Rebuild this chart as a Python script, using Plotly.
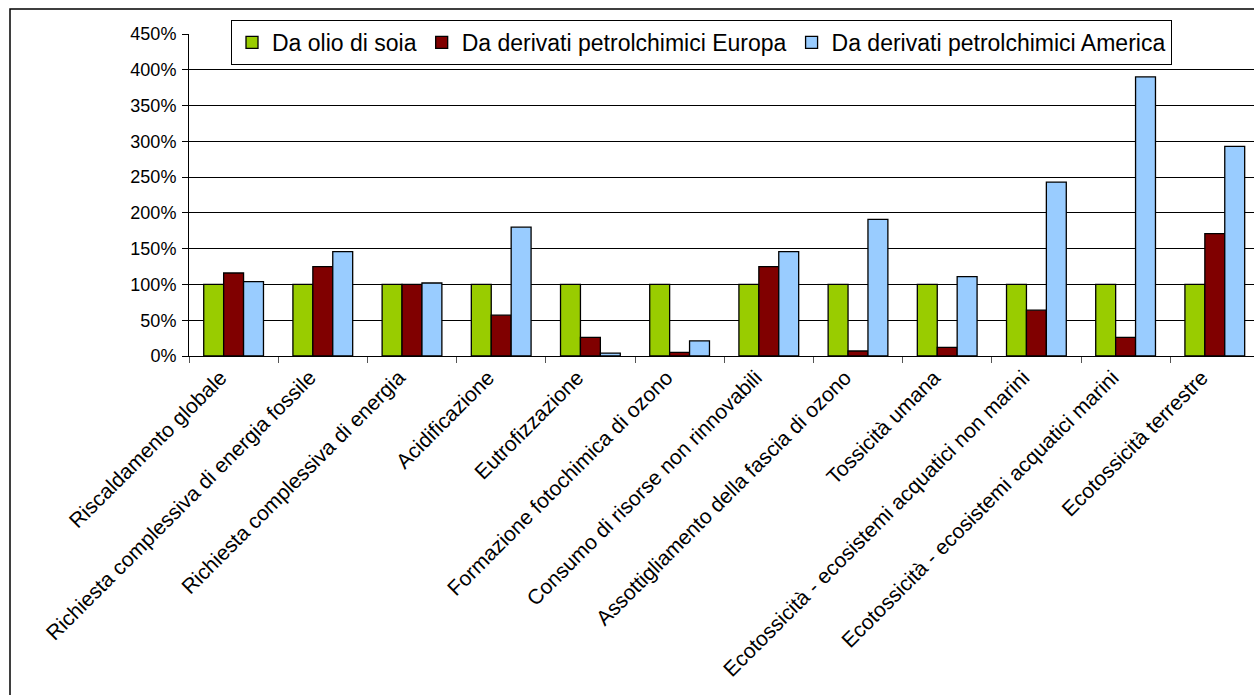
import plotly.graph_objects as go

categories = [
    "Riscaldamento globale",
    "Richiesta complessiva di energia fossile",
    "Richiesta complessiva di energia",
    "Acidificazione",
    "Eutrofizzazione",
    "Formazione fotochimica di ozono",
    "Consumo di risorse non rinnovabili",
    "Assottigliamento della fascia di ozono",
    "Tossicità umana",
    "Ecotossicità - ecosistemi acquatici non marini",
    "Ecotossicità - ecosistemi acquatici marini",
    "Ecotossicità terrestre",
]
soia = [100, 100, 100, 100, 100, 100, 100, 100, 100, 100, 100, 100]
europa = [116, 125, 100, 57, 26, 5, 125, 7, 12, 64, 26, 171]
america = [104, 146, 102, 180, 4, 21, 146, 191, 111, 243, 390, 293]
series_names = ["Da olio di soia", "Da derivati petrolchimici Europa", "Da derivati petrolchimici America"]
colors = ["#99CC00", "#800000", "#99CCFF"]

W, H = 1254, 695
ML, MT = 189, 34
PW = W - ML
PH = 322
MB = H - MT - PH
cat_px = 89.2

fig = go.Figure()
for name, vals, col in zip(series_names, [soia, europa, america], colors):
    fig.add_trace(go.Bar(x=categories, y=vals, name=name,
                         marker=dict(color=col, line=dict(color="black", width=1.3))))

fig.update_layout(
    template="none",
    width=W, height=H,
    margin=dict(l=ML, r=0, t=MT, b=MB, pad=0),
    paper_bgcolor="white", plot_bgcolor="white",
    font=dict(family="Liberation Sans, Arial, sans-serif", color="black"),
    barmode="group", bargap=0.33, bargroupgap=0,
    showlegend=True,
    legend=dict(orientation="h", x=(231 - ML) / PW, y=1 + (MT - 20) / PH,
                xanchor="left", yanchor="top",
                bgcolor="white", bordercolor="black", borderwidth=1,
                font=dict(size=23, family="Liberation Sans, Arial, sans-serif"),
                itemwidth=30, tracegroupgap=0),
    shapes=[dict(type="rect", xref="paper", yref="paper",
                 x0=(10 - ML) / PW, x1=1.2, y0=-2, y1=1 + (MT - 9) / PH,
                 line=dict(color="black", width=1.5), fillcolor="rgba(0,0,0,0)",
                 layer="below")],
)
fig.update_xaxes(
    type="category", range=[-0.5, -0.5 + PW / cat_px],
    tickangle=-45, tickfont=dict(size=21), ticklabelshift=-13,
    showline=True, linecolor="black", linewidth=1,
    ticks="outside", tickson="boundaries", ticklen=6, tickcolor="#555555",
    showgrid=False, automargin=False, zeroline=False,
)
fig.update_yaxes(
    range=[0, 450], dtick=50, ticksuffix="%",
    tickfont=dict(size=18), ticklabelstandoff=2,
    showline=True, linecolor="black", linewidth=1,
    ticks="outside", ticklen=6, tickcolor="black",
    showgrid=True, gridcolor="black", gridwidth=1,
    automargin=False, zeroline=False,
)

fig.write_html("out.html")
